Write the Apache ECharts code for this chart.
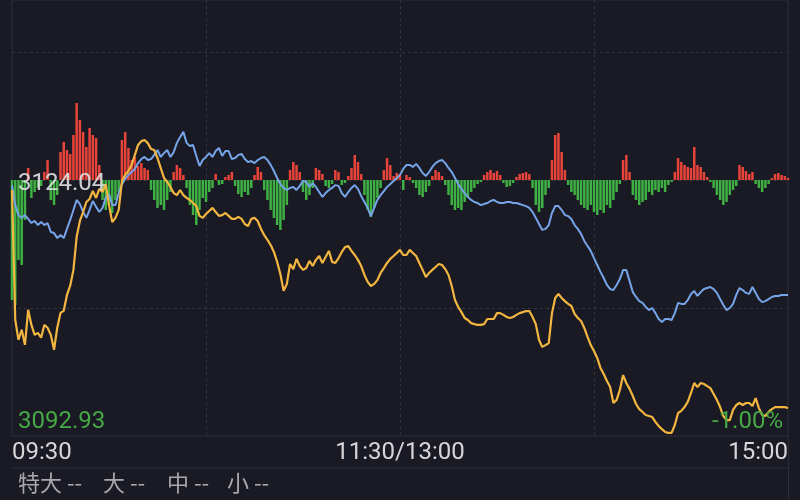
<!DOCTYPE html>
<html>
<head>
<meta charset="utf-8">
<script src="https://cdn.jsdelivr.net/npm/echarts@6/dist/echarts.min.js"></script>
<style>
html,body{margin:0;padding:0;background:#1a1a24;}
#c{width:800px;height:500px;}
</style>
</head>
<body>
<div id="c"></div>
<script>
// ---- data (percent change vs. previous close for the two lines; net flow for the bars) ----
const yellowPct = [
-0.039,-0.546,-0.624,-0.585,-0.644,-0.507,-0.566,-0.605,-0.597,-0.616,
-0.566,-0.577,-0.605,-0.663,-0.577,-0.519,-0.511,-0.449,-0.413,-0.351,
-0.222,-0.160,-0.125,-0.086,-0.074,-0.043,-0.070,-0.035,-0.047,-0.016,
-0.098,-0.164,-0.148,-0.117,-0.004,0.020,0.035,0.059,0.098,0.137,
0.152,0.156,0.144,0.121,0.117,0.086,0.047,0.008,-0.008,-0.027,
-0.051,-0.059,-0.039,-0.059,-0.070,-0.078,-0.090,-0.101,-0.140,-0.148,
-0.133,-0.121,-0.109,-0.125,-0.140,-0.137,-0.129,-0.140,-0.152,-0.152,
-0.144,-0.152,-0.172,-0.180,-0.152,-0.148,-0.160,-0.191,-0.215,-0.234,
-0.254,-0.281,-0.320,-0.367,-0.433,-0.406,-0.328,-0.348,-0.308,-0.336,
-0.351,-0.344,-0.316,-0.336,-0.312,-0.297,-0.324,-0.301,-0.277,-0.320,
-0.324,-0.305,-0.281,-0.262,-0.258,-0.277,-0.293,-0.312,-0.336,-0.371,
-0.398,-0.414,-0.406,-0.391,-0.363,-0.344,-0.324,-0.308,-0.297,-0.285,
-0.273,-0.293,-0.293,-0.273,-0.285,-0.297,-0.324,-0.351,-0.379,-0.363,
-0.351,-0.340,-0.328,-0.332,-0.348,-0.371,-0.414,-0.469,-0.496,-0.516,
-0.539,-0.547,-0.559,-0.563,-0.566,-0.566,-0.563,-0.543,-0.543,-0.543,
-0.520,-0.520,-0.527,-0.535,-0.539,-0.535,-0.527,-0.520,-0.516,-0.512,
-0.512,-0.535,-0.563,-0.625,-0.652,-0.645,-0.637,-0.520,-0.461,-0.445,
-0.461,-0.473,-0.484,-0.492,-0.523,-0.539,-0.551,-0.578,-0.613,-0.645,
-0.668,-0.695,-0.734,-0.758,-0.785,-0.809,-0.871,-0.859,-0.820,-0.762,
-0.793,-0.816,-0.844,-0.875,-0.895,-0.906,-0.918,-0.922,-0.926,-0.945,
-0.961,-0.973,-0.984,-0.988,-0.988,-0.957,-0.910,-0.902,-0.887,-0.867,
-0.832,-0.793,-0.809,-0.793,-0.797,-0.805,-0.813,-0.836,-0.859,-0.887,
-0.922,-0.938,-0.938,-0.898,-0.879,-0.871,-0.879,-0.871,-0.871,-0.883,
-0.852,-0.891,-0.918,-0.922,-0.906,-0.895,-0.887,-0.887,-0.887,-0.887,
-0.891
];
const bluePct = [
-0.020,-0.098,-0.137,-0.148,-0.137,-0.152,-0.168,-0.160,-0.176,-0.164,
-0.176,-0.168,-0.203,-0.207,-0.227,-0.215,-0.227,-0.191,-0.156,-0.117,
-0.078,-0.094,-0.125,-0.148,-0.117,-0.082,-0.105,-0.125,-0.109,-0.070,
-0.055,-0.098,-0.098,-0.051,-0.016,0.004,0.020,0.031,0.043,0.066,
0.082,0.090,0.078,0.082,0.098,0.117,0.090,0.105,0.117,0.090,
0.109,0.145,0.168,0.188,0.145,0.133,0.137,0.094,0.055,0.078,
0.090,0.105,0.090,0.113,0.125,0.094,0.113,0.113,0.082,0.086,
0.098,0.102,0.082,0.070,0.074,0.066,0.078,0.086,0.090,0.078,
0.059,0.035,0.008,-0.016,-0.031,-0.039,-0.031,-0.027,-0.039,-0.023,
-0.004,-0.008,-0.027,-0.012,-0.027,-0.047,-0.066,-0.051,-0.039,-0.031,
-0.020,-0.023,-0.051,-0.066,-0.047,-0.031,-0.020,-0.035,-0.063,-0.086,
-0.109,-0.141,-0.109,-0.078,-0.059,-0.043,-0.027,-0.016,-0.004,0.008,
0.020,0.043,0.059,0.059,0.051,0.063,0.047,0.027,0.016,0.031,
0.051,0.066,0.074,0.078,0.066,0.047,0.031,0.008,-0.016,-0.035,
-0.051,-0.066,-0.078,-0.086,-0.090,-0.098,-0.094,-0.090,-0.082,-0.078,
-0.086,-0.090,-0.090,-0.086,-0.086,-0.090,-0.090,-0.094,-0.098,-0.102,
-0.109,-0.125,-0.148,-0.172,-0.195,-0.191,-0.176,-0.129,-0.102,-0.102,
-0.117,-0.137,-0.141,-0.152,-0.176,-0.191,-0.211,-0.238,-0.258,-0.277,
-0.305,-0.332,-0.359,-0.383,-0.410,-0.426,-0.430,-0.410,-0.387,-0.352,
-0.352,-0.395,-0.438,-0.457,-0.473,-0.480,-0.496,-0.508,-0.500,-0.520,
-0.543,-0.555,-0.543,-0.543,-0.547,-0.520,-0.480,-0.484,-0.484,-0.469,
-0.445,-0.434,-0.453,-0.438,-0.426,-0.422,-0.418,-0.426,-0.441,-0.465,
-0.488,-0.508,-0.500,-0.484,-0.449,-0.422,-0.430,-0.441,-0.445,-0.418,
-0.441,-0.465,-0.477,-0.473,-0.465,-0.457,-0.453,-0.453,-0.449,-0.449,
-0.449
];
const netFlow = [
-120,-125,-80,-85,-40,12,-18,-12,-8,-6,
8,20,-20,-25,-15,28,38,30,26,45,
77,60,48,33,52,45,42,15,-20,-30,
-25,-33,-20,-12,40,48,32,20,23,14,
17,12,10,-10,-20,-28,-25,-30,-20,-12,
8,15,12,5,-8,-25,-35,-45,-30,-18,
-22,-12,-8,6,-5,-4,3,5,8,-6,
-14,-17,-12,-15,-8,5,13,8,-10,-20,
-30,-38,-45,-50,-40,-25,10,18,15,8,
-12,-20,-15,-8,12,10,6,-6,-8,-4,
10,8,-5,-3,4,12,25,18,6,-15,
-30,-37,-28,-18,-8,10,22,15,4,7,
6,-10,5,3,-3,-8,-15,-17,-12,-6,
4,10,8,4,-5,-15,-25,-30,-28,-30,
-22,-18,-12,-8,-4,-2,5,8,10,7,
9,5,-3,-7,-6,-3,3,6,7,8,
6,-8,-25,-32,-28,-15,-8,20,45,47,
28,10,-5,-12,-15,-20,-25,-28,-30,-25,
-32,-35,-30,-33,-25,-28,-20,-12,-4,20,
25,8,-15,-20,-25,-22,-20,-12,-15,-10,
-12,-8,-12,-5,-2,8,22,18,15,13,
12,33,15,13,8,3,-2,-8,-15,-20,
-25,-22,-15,-10,-6,15,13,9,6,8,
-4,-8,-12,-8,-4,2,6,7,5,4,
2
];
const tickLabels = ['09:30', '11:30/13:00', '15:00'];
const tickIndex = [0, 120, 240];
const gridIndex = [60, 120, 180];
const priceTop = '3124.04';
const priceBottom = '3092.93';
const pctBottom = '-1.00%';
const legendItems = ['特大 --', '大 --', '中 --', '小 --'];

// trading minutes 09:30-11:30, 13:01-15:00
function pad(n){ return (n < 10 ? '0' : '') + n; }
const times = [];
for (let m = 9*60+30; m <= 11*60+30; m++) times.push(pad(Math.floor(m/60)) + ':' + pad(m%60));
for (let m = 13*60+1; m <= 15*60; m++) times.push(pad(Math.floor(m/60)) + ':' + pad(m%60));

const chart = echarts.init(document.getElementById('c'));
const gridLine = { color: '#34343f', type: [3, 3], width: 1 };
chart.setOption({
  backgroundColor: '#1a1a24',
  animation: false,
  grid: { left: 12, right: 12, top: 0, bottom: 64, show: true, borderColor: '#2e2e38', borderWidth: 1 },
  xAxis: {
    type: 'category', data: times, boundaryGap: false,
    axisLine: { show: false }, axisTick: { show: false },
    axisLabel: {
      interval: (i) => tickIndex.indexOf(i) >= 0,
      formatter: (v, i) => { const k = tickIndex.indexOf(i); return k >= 0 ? tickLabels[k] : ''; },
      color: '#d6d6da', fontSize: 24, fontFamily: 'Roboto', margin: 5,
      showMinLabel: true, showMaxLabel: true,
      alignMinLabel: 'left', alignMaxLabel: 'right'
    },
    splitLine: { show: true, interval: (i) => gridIndex.indexOf(i) >= 0, lineStyle: gridLine }
  },
  yAxis: [
    { type: 'value', min: -1, max: 0.703125, interval: 0.5,
      axisLabel: { show: false }, axisLine: { show: false }, axisTick: { show: false },
      splitLine: { show: true, showMinLine: false, showMaxLine: false, lineStyle: gridLine } },
    { type: 'value', min: -256, max: 180, show: false, splitLine: { show: false } }
  ],
  series: [
    { type: 'bar', yAxisIndex: 1, data: netFlow, barWidth: 2.5, z: 2,
      itemStyle: { color: (p) => p.value >= 0 ? '#e8443a' : '#3fb043' } },
    { type: 'line', data: bluePct, symbol: 'none', z: 3,
      lineStyle: { color: '#76a4e8', width: 2 } },
    { type: 'line', data: yellowPct, symbol: 'none', z: 4,
      lineStyle: { color: '#f3b640', width: 2.2 } }
  ]
});

const y0 = chart.convertToPixel({ yAxisIndex: 0 }, 0);
const yMin = chart.convertToPixel({ yAxisIndex: 0 }, -1);
const xL = chart.convertToPixel({ xAxisIndex: 0 }, times[0]);
const xR = chart.convertToPixel({ xAxisIndex: 0 }, times[times.length - 1]);
const legendX = [18, 103, 167, 227];
const g = [
  { type: 'text', x: xL + 6, y: y0 + 4, z: 100,
    style: { text: priceTop, fill: 'rgba(225,225,228,0.9)', font: '24px Roboto', textVerticalAlign: 'middle' } },
  { type: 'text', x: xL + 6, y: yMin - 14, z: 100,
    style: { text: priceBottom, fill: '#46a946', font: '24px Roboto', textVerticalAlign: 'middle' } },
  { type: 'text', x: xR - 5, y: yMin - 14, z: 100,
    style: { text: pctBottom, fill: '#46a946', font: '24px Roboto', textAlign: 'right', textVerticalAlign: 'middle' } },
  { type: 'line', z: 100, shape: { x1: xL, y1: 468, x2: xR, y2: 468 }, style: { stroke: '#2e2e38', lineWidth: 1 } },
  { type: 'line', z: 100, shape: { x1: xR + 0.5, y1: yMin, x2: xR + 0.5, y2: 500 }, style: { stroke: '#2e2e38', lineWidth: 1 } }
];
legendItems.forEach((t, k) => {
  g.push({ type: 'text', x: legendX[k], y: 483, z: 100,
    style: { text: t, fill: '#a9a9ad', font: '22px "Noto Sans CJK SC"', textVerticalAlign: 'middle' } });
});
chart.setOption({ graphic: g });
</script>
</body>
</html>
